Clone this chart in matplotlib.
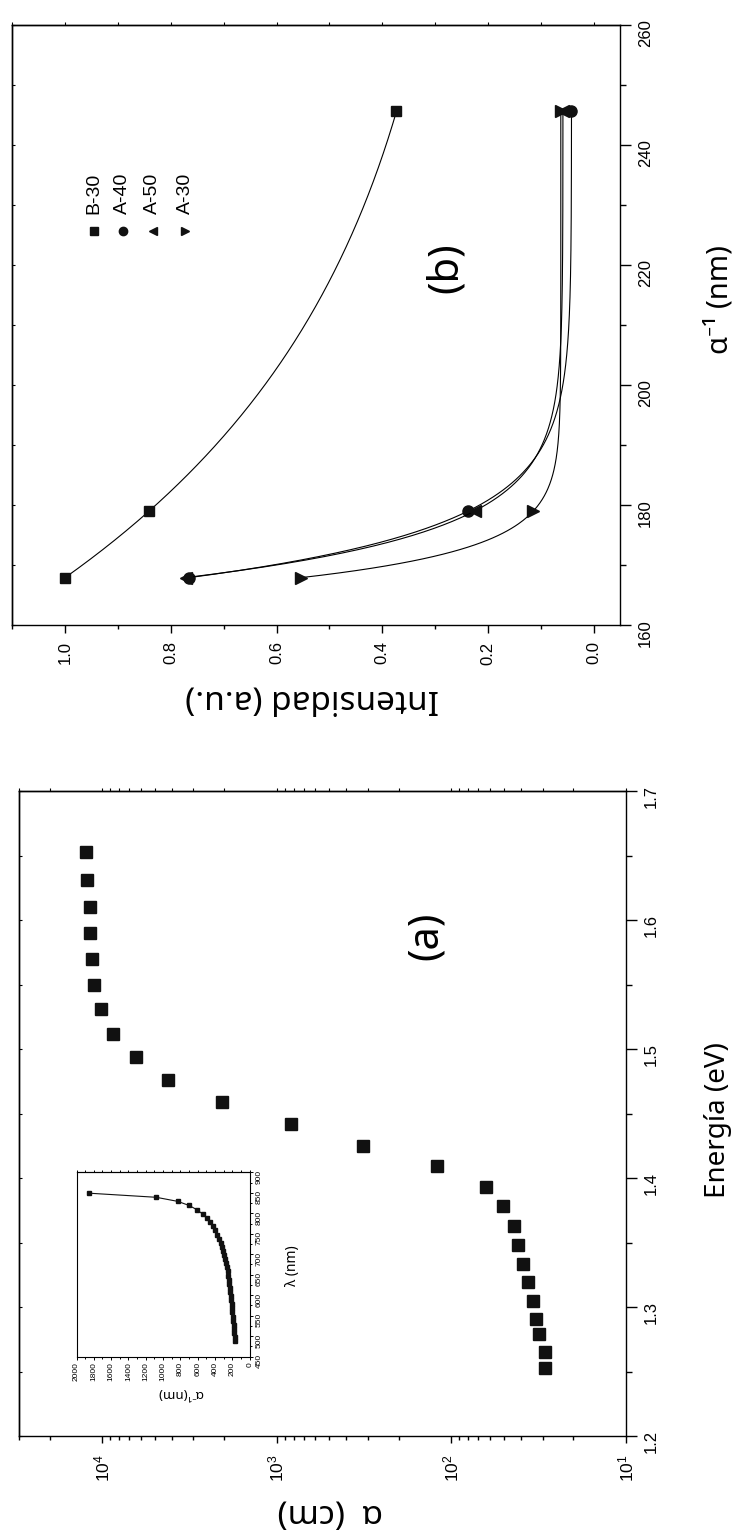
import numpy as np
import matplotlib as mpl
mpl.use('Agg')
import matplotlib.pyplot as plt
from matplotlib.ticker import MultipleLocator, LogLocator, NullFormatter

# ---- panel (a): absorption coefficient vs photon energy
energy = [1.653, 1.631, 1.610, 1.590, 1.570, 1.550, 1.531, 1.512, 1.494, 1.476,
          1.459, 1.442, 1.425, 1.409, 1.393, 1.378, 1.363, 1.348, 1.333, 1.319,
          1.305, 1.291, 1.279, 1.265, 1.253]
alpha = [12400, 12180, 11740, 11740, 11460, 11170, 10120, 8670, 6400, 4210,
         2066, 827, 321, 121, 63.5, 50.8, 43.6, 41.7, 38.7, 36.4,
         34.2, 32.7, 31.3, 29.1, 29.0]

# ---- inset: penetration depth vs wavelength
inset_lambda = [849, 839, 829, 819, 808, 798, 788, 778, 768, 758, 748, 738, 728,
                718, 708, 698, 688, 678, 668, 658, 648, 638, 628, 618, 608, 598,
                588, 578, 568, 558, 548, 538, 528, 518, 508, 498, 488]
inset_alpha_inv = [1854, 1080, 830, 700, 604, 545, 495, 460, 428, 400, 378, 357, 338,
                   321, 306, 293, 282, 272, 263, 255, 248, 242, 236, 231, 226, 221,
                   216, 211, 206, 201, 196, 192, 187, 183, 178, 173, 167]

# ---- panel (b): intensity vs penetration depth
b_alpha_inv = [167.9, 179.0, 245.6]
b30 = [1.0, 0.841, 0.373]
a40 = [0.765, 0.237, 0.042]
a50 = [0.772, 0.225, 0.058]
a30 = [0.553, 0.114, 0.062]
series_names = ['B-30', 'A-40', 'A-50', 'A-30']

tickfont = ['Liberation Sans', 'DejaVu Sans']
labfont = ['Noto Sans', 'DejaVu Sans']
plt.rcParams['font.family'] = tickfont
plt.rcParams['mathtext.fontset'] = 'custom'
plt.rcParams['mathtext.rm'] = 'Liberation Sans'
plt.rcParams['axes.linewidth'] = 1.0


def expdec_fit(x, y):
    # first order exponential decay through the points (y0 + A exp(-x/t))
    x = np.asarray(x, float)
    y = np.asarray(y, float)
    best = None
    for t in np.linspace(0.5, 300, 6000):
        M = np.column_stack([np.ones_like(x), np.exp(-(x - x[0]) / t)])
        coef = np.linalg.lstsq(M, y, rcond=None)[0]
        r = np.sum((M @ coef - y) ** 2)
        if best is None or r < best[0]:
            best = (r, t, coef)
    _, t, (y0, A) = best
    xs = np.linspace(x.min(), x.max(), 400)
    return xs, y0 + A * np.exp(-(xs - x[0]) / t)


W, H = 736, 1531
fig = plt.figure(figsize=(W / 100, H / 100), dpi=100)


def rect(x0, x1, y0, y1):
    return [x0 / W, 1 - y1 / H, (x1 - x0) / W, (y1 - y0) / H]


axb = fig.add_axes(rect(12.3, 620, 25, 625))
axa = fig.add_axes(rect(18.8, 626, 791, 1436))
axi = fig.add_axes(rect(76.5, 249.8, 1172.3, 1356.7))

# ---------------- panel (b)
markers = ['s', 'o', '<', '>']
msizes = [7.5, 8, 9, 9]
for vals, m, ms in zip([b30, a40, a50, a30], markers, msizes):
    xs, ys = expdec_fit(b_alpha_inv, vals)
    axb.plot(ys, xs, '-', color='k', lw=0.8)
    axb.plot(vals, b_alpha_inv, m, color='#111111', ms=ms, ls='none')

axb.set_xlim(1.1, -0.05)
axb.set_ylim(160, 260)
axb.xaxis.set_major_locator(MultipleLocator(0.2))
axb.xaxis.set_minor_locator(MultipleLocator(0.1))
axb.yaxis.set_major_locator(MultipleLocator(20))
axb.yaxis.set_minor_locator(MultipleLocator(10))
axb.yaxis.tick_right()
axb.tick_params(axis='x', which='major', direction='out', length=5.8, width=1, pad=6,
                labelsize=12, labelrotation=90)
axb.tick_params(axis='x', which='minor', direction='out', length=2.9, width=1)
axb.tick_params(axis='y', which='major', direction='out', length=7.9, width=1, pad=5,
                labelsize=12, labelrotation=90)
axb.tick_params(axis='y', which='minor', direction='out', length=4.3, width=1)
axb.xaxis.set_major_formatter(mpl.ticker.FormatStrFormatter('%.1f'))

sbt = axb.secondary_xaxis('top')
sbt.xaxis.set_major_locator(MultipleLocator(0.1))
sbt.xaxis.set_major_formatter(NullFormatter())
sbt.tick_params(direction='out', length=2.2, width=0.8)
sbl = axb.secondary_yaxis('left')
sbl.yaxis.set_major_locator(MultipleLocator(10))
sbl.yaxis.set_major_formatter(NullFormatter())
sbl.tick_params(direction='in', length=2.5, width=0.8)

axb.set_xlabel('Intensidad (a.u.)', family=labfont, fontsize=24, rotation=180, va='center')
axb.xaxis.set_label_coords(0.493, -0.123)
axb.set_ylabel('α⁻¹ (nm)', family=labfont, fontsize=21, rotation=90, va='center')
axb.yaxis.set_label_position('right')
axb.yaxis.set_label_coords(1.14, 0.542)
axb.text(0.714, 0.595, '(b)', transform=axb.transAxes, rotation=90, ha='center',
         va='center', fontsize=30, family=labfont)

leg_x = [0.134, 0.182, 0.231, 0.285]
for xf, m, lab in zip(leg_x, markers, series_names):
    axb.plot([xf], [0.657], m, transform=axb.transAxes, color='#111111', ms=6)
    axb.text(xf, 0.685, lab, transform=axb.transAxes, rotation=90, ha='center',
             va='bottom', fontsize=14)

# ---------------- panel (a)
axa.plot(alpha, energy, 's', color='#111111', ms=8, ls='none')
axa.set_xscale('log')
axa.set_xlim(3e4, 10)
axa.set_ylim(1.2, 1.7)
axa.xaxis.set_major_locator(LogLocator(base=10, numticks=10))
axa.xaxis.set_minor_locator(LogLocator(base=10, subs=np.arange(2, 10), numticks=20))
axa.xaxis.set_minor_formatter(NullFormatter())
axa.yaxis.set_major_locator(MultipleLocator(0.1))
axa.yaxis.set_minor_locator(MultipleLocator(0.05))
axa.yaxis.tick_right()
axa.tick_params(axis='x', which='major', direction='out', length=5, width=1, pad=8,
                labelsize=12.5, labelrotation=90)
axa.tick_params(axis='x', which='minor', direction='out', length=2.8, width=1)
axa.tick_params(axis='y', which='major', direction='out', length=7.9, width=1, pad=5,
                labelsize=12, labelrotation=90)
axa.tick_params(axis='y', which='minor', direction='out', length=4.3, width=1)

sat = axa.secondary_xaxis('top')
sat.xaxis.set_major_locator(LogLocator(base=10, subs=np.arange(1, 10), numticks=40))
sat.xaxis.set_major_formatter(NullFormatter())
sat.xaxis.set_minor_formatter(NullFormatter())
sat.tick_params(which='both', direction='out', length=2.2, width=0.8)
sal = axa.secondary_yaxis('left')
sal.yaxis.set_major_locator(MultipleLocator(0.05))
sal.yaxis.set_major_formatter(NullFormatter())
sal.tick_params(direction='in', length=2.5, width=0.8)

axa.set_xlabel('α  (cm)', family=labfont, fontsize=24, rotation=180, va='center')
axa.xaxis.set_label_coords(0.513, -0.119)
axa.set_ylabel('Energía (eV)', family=labfont, fontsize=20, rotation=90, va='center')
axa.yaxis.set_label_position('right')
axa.yaxis.set_label_coords(1.128, 0.49)
axa.text(0.671, 0.775, '(a)', transform=axa.transAxes, rotation=90, ha='center',
         va='center', fontsize=30, family=labfont)

# ---------------- inset
axi.plot(inset_alpha_inv, inset_lambda, '-s', color='#111111', lw=0.8, ms=2.6)
axi.set_xlim(2000, 0)
axi.set_ylim(450, 900)
axi.xaxis.set_major_locator(MultipleLocator(200))
axi.xaxis.set_minor_locator(MultipleLocator(100))
axi.yaxis.set_major_locator(MultipleLocator(50))
axi.yaxis.set_minor_locator(MultipleLocator(25))
axi.yaxis.tick_right()
axi.tick_params(which='both', direction='out', width=0.7, labelsize=6)
axi.tick_params(which='major', length=2.5, pad=1.5)
axi.tick_params(which='minor', length=1.5)
axi.tick_params(axis='both', labelrotation=90)
for s in axi.spines.values():
    s.set_linewidth(0.8)
sit = axi.secondary_xaxis('top')
sit.xaxis.set_major_locator(MultipleLocator(100))
sit.xaxis.set_major_formatter(NullFormatter())
sit.tick_params(direction='out', length=1.8, width=0.7)
sit.spines['top'].set_linewidth(0.8)
axi.set_xlabel('α⁻¹(nm)', family=labfont, fontsize=9.5, rotation=180, va='center')
axi.xaxis.set_label_coords(0.597, -0.197)
axi.set_ylabel('λ (nm)', family=labfont, fontsize=10, rotation=90, va='center')
axi.yaxis.set_label_position('right')
axi.yaxis.set_label_coords(1.203, 0.492)

fig.savefig('out.png', dpi=100)
